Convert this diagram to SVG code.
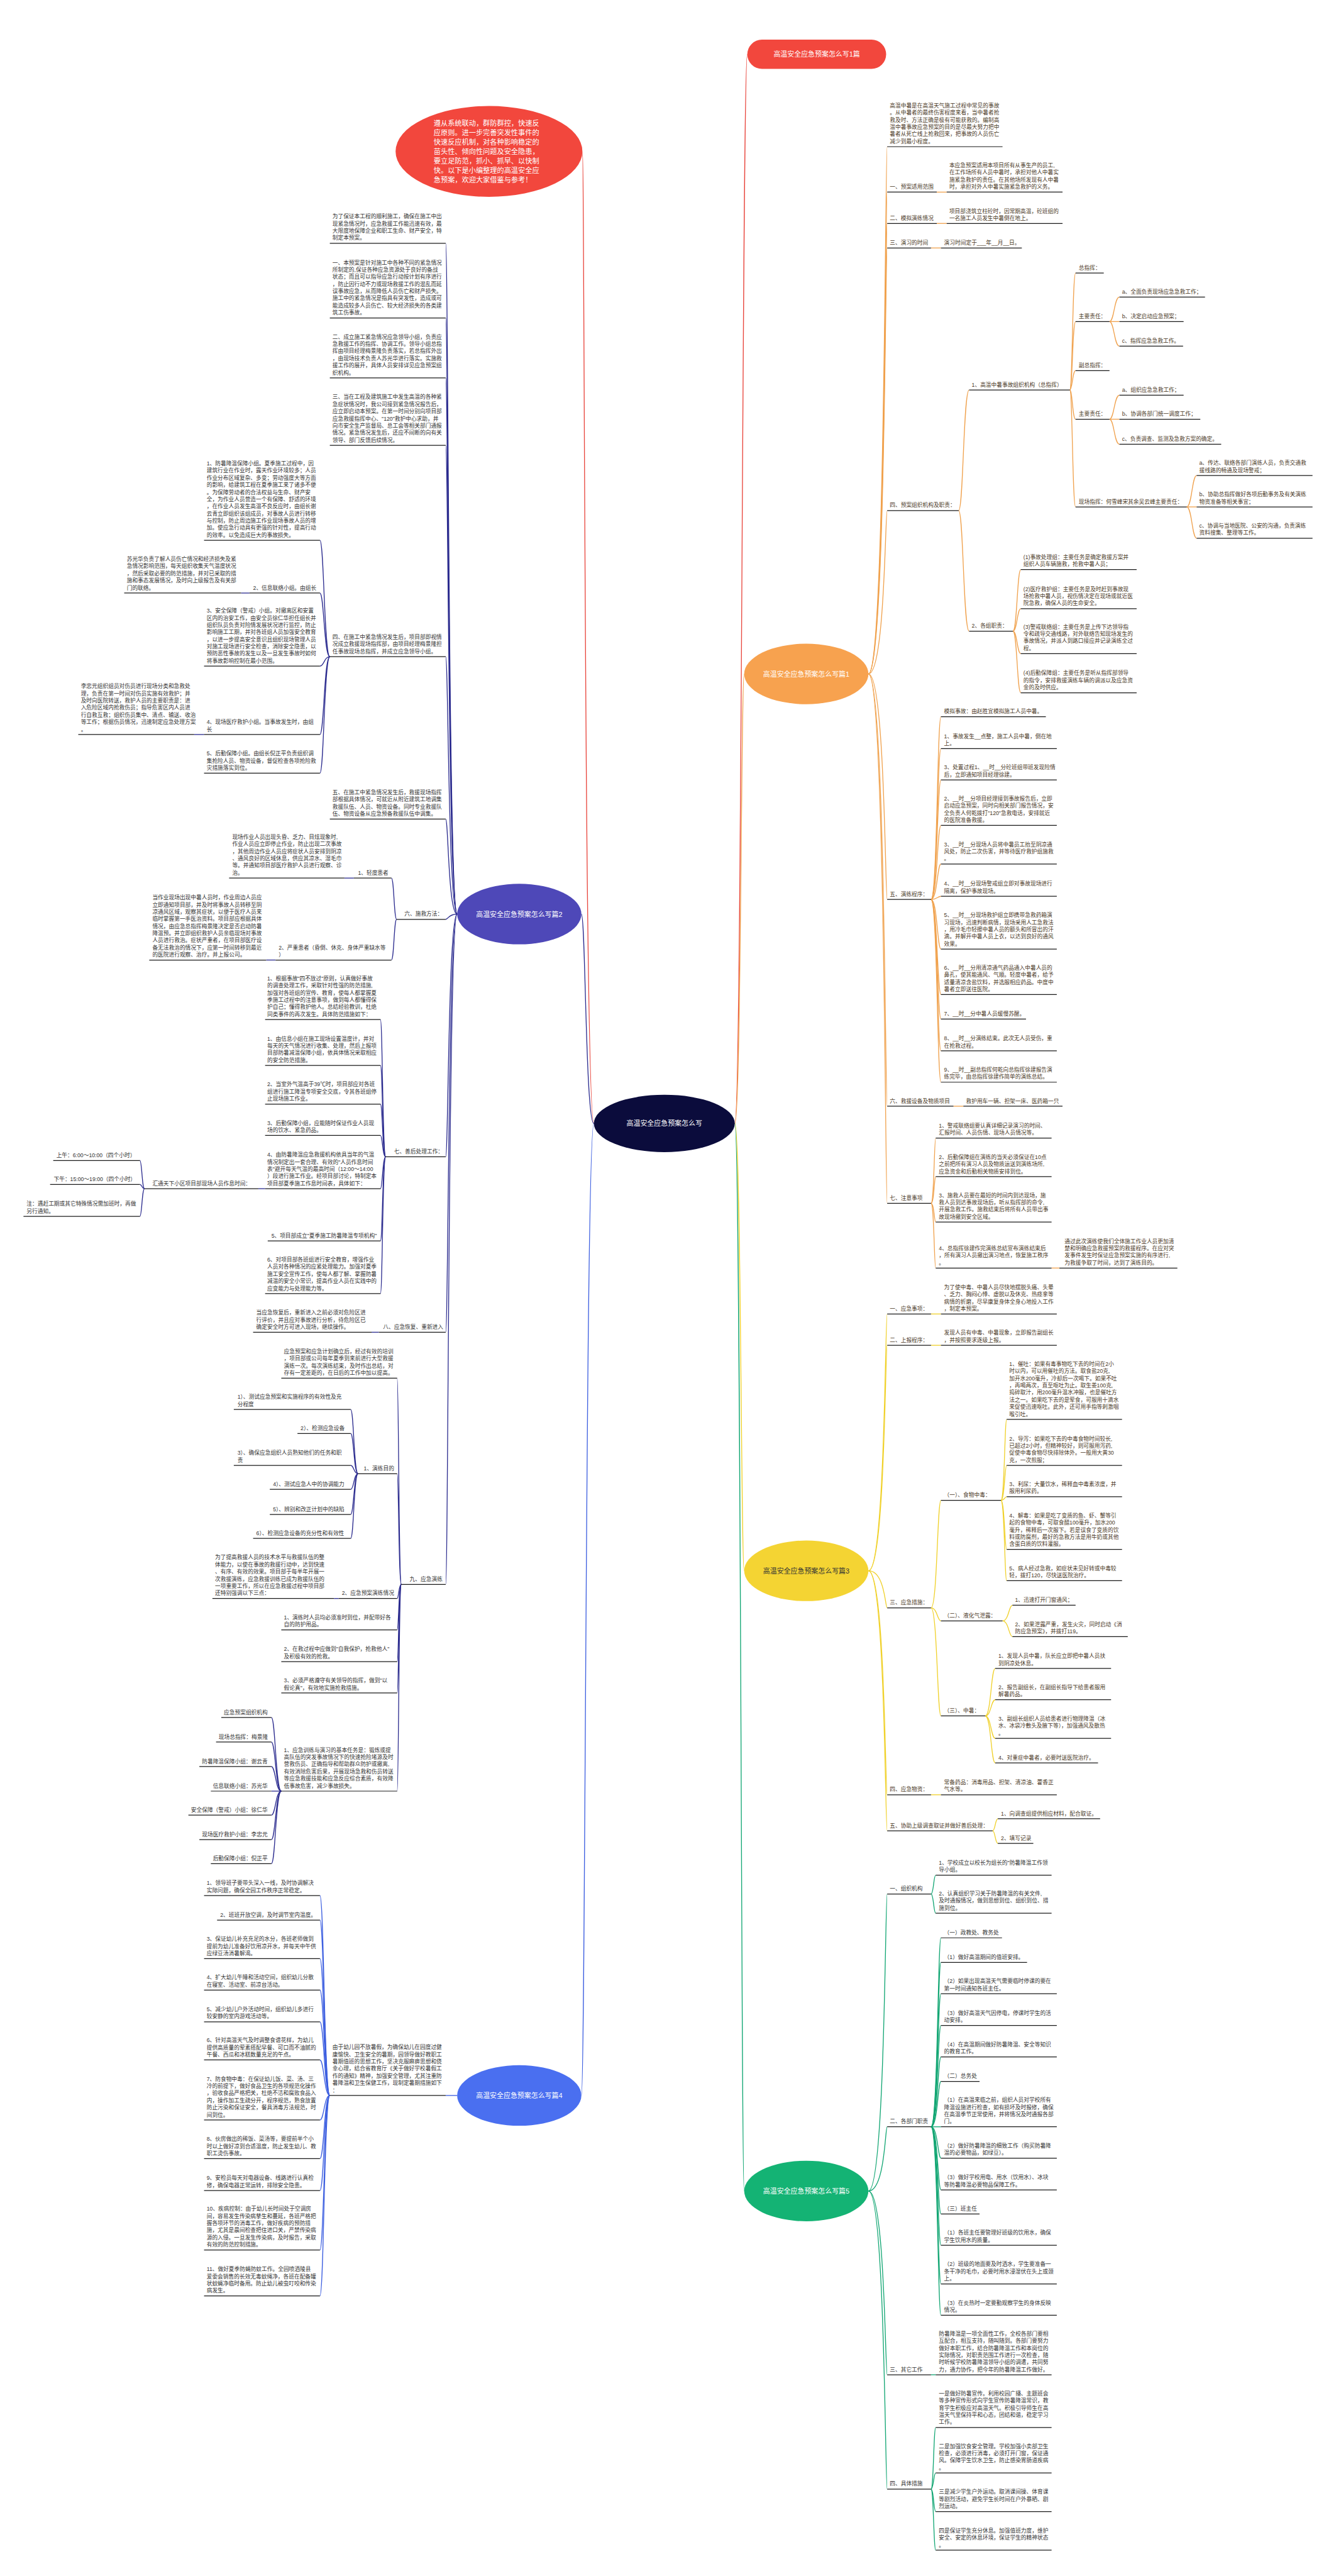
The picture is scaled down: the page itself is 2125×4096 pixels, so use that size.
<svg xmlns="http://www.w3.org/2000/svg" width="2125" height="4096" viewBox="0 0 2125 4096">
<style>
.t{font-family:'Liberation Sans','Noto Sans CJK SC',sans-serif;font-size:10.5px;fill:#333}
.b{fill:#4a3826}
.u{stroke:#1a1a1a;stroke-width:1.5;fill:none}
.c path{fill:none;stroke-width:1.6}
.nv{stroke:#2c2c8f}
.bl{stroke:#3d5fe0}
.or{stroke:#f0a24e}
.ye{stroke:#f0d12b}
.gr{stroke:#12a673}
.rd{stroke:#e8453c}
.nl{font-family:'Liberation Sans','Noto Sans CJK SC',sans-serif;font-size:13.2px;fill:#fff;text-anchor:middle}
.rt{font-family:'Liberation Sans','Noto Sans CJK SC',sans-serif;font-size:13.5px;fill:#fff}
</style>
<rect width="2125" height="4096" fill="#fff"/>
<g transform="scale(0.830078)">
<g id="connectors">
<g class="c rd">
<path d="M1138 2152C1120 2152 1120 291 1116 291"/>
<path d="M1408 2152C1422 2152 1422 104 1432 104"/>
</g>
<g class="c nv">
<path d="M1138 2152C1122 2152 1122 1751 1114 1751"/>
<path d="M876 1751C859 1751 859 466 854 466"/>
<path d="M876 1751C859 1751 859 609 854 609"/>
<path d="M876 1751C859 1751 859 724 854 724"/>
<path d="M876 1751C859 1751 859 853 854 853"/>
<path d="M876 1751C859 1751 859 1258 854 1258"/>
<path d="M876 1751C859 1751 859 1569 854 1569"/>
<path d="M876 1751C859 1751 859 1761 854 1761"/>
<path d="M876 1751C859 1751 859 2216 854 2216"/>
<path d="M876 1751C859 1751 859 2552 854 2552"/>
<path d="M876 1751C859 1751 859 3035 854 3035"/>
<path d="M632 1258C621 1258 621 1035 613 1035"/>
<path d="M632 1258C621 1258 621 1136 613 1136"/>
<path d="M632 1258C621 1258 621 1276 613 1276"/>
<path d="M632 1258C621 1258 621 1407 613 1407"/>
<path d="M632 1258C621 1258 621 1481 613 1481"/>
<path d="M478 1136H462"/>
<path d="M391 1407H372"/>
<path d="M760 1761C755 1761 755 1682 750 1682"/>
<path d="M760 1761C755 1761 755 1839 750 1839"/>
<path d="M678 1682H660"/>
<path d="M528 1839H510"/>
<path d="M739 2216C733 2216 733 1953 729 1953"/>
<path d="M739 2216C733 2216 733 2041 729 2041"/>
<path d="M739 2216C733 2216 733 2115 729 2115"/>
<path d="M739 2216C733 2216 733 2175 729 2175"/>
<path d="M739 2216C733 2216 733 2277 729 2277"/>
<path d="M739 2216C733 2216 733 2377 729 2377"/>
<path d="M739 2216C733 2216 733 2478 729 2478"/>
<path d="M508 2277H495"/>
<path d="M277 2277C272 2277 272 2223 268 2223"/>
<path d="M277 2277C272 2277 272 2269 268 2269"/>
<path d="M277 2277C272 2277 272 2330 268 2330"/>
<path d="M726 2552H712"/>
<path d="M769 3035C764 3035 764 2640 761 2640"/>
<path d="M769 3035C764 3035 764 2823 761 2823"/>
<path d="M769 3035C764 3035 764 3062 761 3062"/>
<path d="M769 3035C764 3035 764 3122 761 3122"/>
<path d="M769 3035C764 3035 764 3183 761 3183"/>
<path d="M769 3035C764 3035 764 3243 761 3243"/>
<path d="M769 3035C764 3035 764 3431 761 3431"/>
<path d="M686 2823C678 2823 678 2700 672 2700"/>
<path d="M686 2823C678 2823 678 2746 672 2746"/>
<path d="M686 2823C678 2823 678 2807 672 2807"/>
<path d="M686 2823C678 2823 678 2853 672 2853"/>
<path d="M686 2823C678 2823 678 2901 672 2901"/>
<path d="M686 2823C678 2823 678 2947 672 2947"/>
<path d="M649 3062H640"/>
<path d="M539 3431C528 3431 528 3290 520 3290"/>
<path d="M539 3431C528 3431 528 3337 520 3337"/>
<path d="M539 3431C528 3431 528 3384 520 3384"/>
<path d="M539 3431H520"/>
<path d="M539 3431C528 3431 528 3477 520 3477"/>
<path d="M539 3431C528 3431 528 3524 520 3524"/>
<path d="M539 3431C528 3431 528 3570 520 3570"/>
</g>
<g class="c bl">
<path d="M1138 2152C1122 2152 1122 4014 1114 4014"/>
<path d="M876 4014H854"/>
<path d="M632 4014C621 4014 621 3631 613 3631"/>
<path d="M632 4014C621 4014 621 3678 613 3678"/>
<path d="M632 4014C621 4014 621 3752 613 3752"/>
<path d="M632 4014C621 4014 621 3812 613 3812"/>
<path d="M632 4014C621 4014 621 3873 613 3873"/>
<path d="M632 4014C621 4014 621 3946 613 3946"/>
<path d="M632 4014C621 4014 621 4061 613 4061"/>
<path d="M632 4014C621 4014 621 4135 613 4135"/>
<path d="M632 4014C621 4014 621 4196 613 4196"/>
<path d="M632 4014C621 4014 621 4310 613 4310"/>
<path d="M632 4014C621 4014 621 4398 613 4398"/>
</g>
<g class="c or">
<path d="M1408 2152C1420 2152 1420 1291 1426 1291"/>
<path d="M1664 1291C1696 1291 1696 281 1700 281"/>
<path d="M1664 1291C1696 1291 1696 368 1700 368"/>
<path d="M1664 1291C1696 1291 1696 428 1700 428"/>
<path d="M1664 1291C1696 1291 1696 475 1700 475"/>
<path d="M1664 1291C1696 1291 1696 978 1700 978"/>
<path d="M1664 1291C1696 1291 1696 1723 1700 1723"/>
<path d="M1664 1291C1696 1291 1696 2119 1700 2119"/>
<path d="M1664 1291C1696 1291 1696 2305 1700 2305"/>
<path d="M1795 368H1814"/>
<path d="M1795 428H1814"/>
<path d="M1784 475H1803"/>
<path d="M1837 978C1846 978 1846 747 1857 747"/>
<path d="M1837 978C1846 978 1846 1209 1857 1209"/>
<path d="M2050 747C2055 747 2055 523 2061 523"/>
<path d="M2050 747C2055 747 2055 616 2061 616"/>
<path d="M2050 747C2055 747 2055 710 2061 710"/>
<path d="M2050 747C2055 747 2055 803 2061 803"/>
<path d="M2050 747C2055 747 2055 971 2061 971"/>
<path d="M2126 616C2135 616 2135 569 2145 569"/>
<path d="M2126 616H2145"/>
<path d="M2126 616C2135 616 2135 663 2145 663"/>
<path d="M2126 803C2135 803 2135 757 2145 757"/>
<path d="M2126 803H2145"/>
<path d="M2126 803C2135 803 2135 851 2145 851"/>
<path d="M2274 971C2284 971 2284 911 2293 911"/>
<path d="M2274 971H2293"/>
<path d="M2274 971C2284 971 2284 1031 2293 1031"/>
<path d="M1941 1209C1949 1209 1949 1091 1956 1091"/>
<path d="M1941 1209C1949 1209 1949 1166 1956 1166"/>
<path d="M1941 1209C1949 1209 1949 1252 1956 1252"/>
<path d="M1941 1209C1949 1209 1949 1327 1956 1327"/>
<path d="M1784 1723C1796 1723 1796 1373 1803 1373"/>
<path d="M1784 1723C1796 1723 1796 1434 1803 1434"/>
<path d="M1784 1723C1796 1723 1796 1494 1803 1494"/>
<path d="M1784 1723C1796 1723 1796 1581 1803 1581"/>
<path d="M1784 1723C1796 1723 1796 1655 1803 1655"/>
<path d="M1784 1723C1796 1723 1796 1717 1803 1717"/>
<path d="M1784 1723C1796 1723 1796 1818 1803 1818"/>
<path d="M1784 1723C1796 1723 1796 1905 1803 1905"/>
<path d="M1784 1723C1796 1723 1796 1952 1803 1952"/>
<path d="M1784 1723C1796 1723 1796 2013 1803 2013"/>
<path d="M1784 1723C1796 1723 1796 2073 1803 2073"/>
<path d="M1827 2119H1846"/>
<path d="M1784 2305C1790 2305 1790 2180 1793 2180"/>
<path d="M1784 2305C1790 2305 1790 2254 1793 2254"/>
<path d="M1784 2305C1790 2305 1790 2341 1793 2341"/>
<path d="M1784 2305C1790 2305 1790 2429 1793 2429"/>
<path d="M2015 2429H2030"/>
</g>
<g class="c ye">
<path d="M1408 2152C1420 2152 1420 3009 1426 3009"/>
<path d="M1664 3009C1696 3009 1696 2517 1700 2517"/>
<path d="M1664 3009C1696 3009 1696 2577 1700 2577"/>
<path d="M1664 3009C1696 3009 1696 3080 1700 3080"/>
<path d="M1664 3009C1696 3009 1696 3438 1700 3438"/>
<path d="M1664 3009C1696 3009 1696 3507 1700 3507"/>
<path d="M1784 2517H1803"/>
<path d="M1784 2577H1803"/>
<path d="M1784 3080C1796 3080 1796 2874 1803 2874"/>
<path d="M1784 3080C1796 3080 1796 3105 1803 3105"/>
<path d="M1784 3080C1796 3080 1796 3287 1803 3287"/>
<path d="M1918 2874C1925 2874 1925 2719 1929 2719"/>
<path d="M1918 2874C1925 2874 1925 2807 1929 2807"/>
<path d="M1918 2874C1925 2874 1925 2867 1929 2867"/>
<path d="M1918 2874C1925 2874 1925 2968 1929 2968"/>
<path d="M1918 2874C1925 2874 1925 3028 1929 3028"/>
<path d="M1921 3105C1933 3105 1933 3075 1940 3075"/>
<path d="M1921 3105C1933 3105 1933 3135 1940 3135"/>
<path d="M1888 3287C1899 3287 1899 3196 1907 3196"/>
<path d="M1888 3287C1899 3287 1899 3256 1907 3256"/>
<path d="M1888 3287C1899 3287 1899 3330 1907 3330"/>
<path d="M1888 3287C1899 3287 1899 3377 1907 3377"/>
<path d="M1784 3438H1803"/>
<path d="M1902 3507C1907 3507 1907 3484 1912 3484"/>
<path d="M1902 3507C1907 3507 1907 3531 1912 3531"/>
</g>
<g class="c gr">
<path d="M1408 2152C1420 2152 1420 4197 1426 4197"/>
<path d="M1664 4197C1696 4197 1696 3628 1700 3628"/>
<path d="M1664 4197C1696 4197 1696 4074 1700 4074"/>
<path d="M1664 4197C1696 4197 1696 4549 1700 4549"/>
<path d="M1664 4197C1696 4197 1696 4768 1700 4768"/>
<path d="M1784 3628C1789 3628 1789 3592 1793 3592"/>
<path d="M1784 3628C1789 3628 1789 3665 1793 3665"/>
<path d="M1784 4074C1797 4074 1797 3712 1803 3712"/>
<path d="M1784 4074C1797 4074 1797 3759 1803 3759"/>
<path d="M1784 4074C1797 4074 1797 3819 1803 3819"/>
<path d="M1784 4074C1797 4074 1797 3880 1803 3880"/>
<path d="M1784 4074C1797 4074 1797 3940 1803 3940"/>
<path d="M1784 4074C1797 4074 1797 3987 1803 3987"/>
<path d="M1784 4074H1803"/>
<path d="M1784 4074C1797 4074 1797 4134 1803 4134"/>
<path d="M1784 4074C1797 4074 1797 4195 1803 4195"/>
<path d="M1784 4074C1797 4074 1797 4241 1803 4241"/>
<path d="M1784 4074C1797 4074 1797 4301 1803 4301"/>
<path d="M1784 4074C1797 4074 1797 4375 1803 4375"/>
<path d="M1784 4074C1797 4074 1797 4435 1803 4435"/>
<path d="M1784 4549H1793"/>
<path d="M1784 4768C1789 4768 1789 4650 1793 4650"/>
<path d="M1784 4768C1789 4768 1789 4737 1793 4737"/>
<path d="M1784 4768C1789 4768 1789 4811 1793 4811"/>
<path d="M1784 4768C1789 4768 1789 4885 1793 4885"/>
</g>
</g>

<g id="n-center"><ellipse cx="1273" cy="2152" rx="135" ry="55" fill="#0b0c3c"/><text class="nl" x="1273" y="2157">高温安全应急预案怎么写</text></g>
<g id="n-intro"><ellipse cx="937" cy="290" rx="179" ry="87" fill="#f2473d"/><text class="rt" x="831" y="241">遵从系统联动，群防群控，快速反<tspan x="831" dy="18.1">应原则。进一步完善突发性事件的</tspan><tspan x="831" dy="18.1">快速反应机制，对各种影响稳定的</tspan><tspan x="831" dy="18.1">苗头性、倾向性问题及安全隐患，</tspan><tspan x="831" dy="18.1">要立足防范，抓小、抓早、以快制</tspan><tspan x="831" dy="18.1">快。以下是小编整理的高温安全应</tspan><tspan x="831" dy="18.1">急预案，欢迎大家借鉴与参考！</tspan></text></g>
<g id="n-top"><rect x="1432" y="76" width="266" height="56" rx="28" fill="#f2473d"/><text class="nl" x="1565" y="109">高温安全应急预案怎么写1篇</text></g>
<g id="n-p1"><ellipse cx="1545" cy="1291" rx="119" ry="58" fill="#f7a24f"/><text class="nl" x="1545" y="1296">高温安全应急预案怎么写篇1</text></g>
<g id="n-p2"><ellipse cx="995" cy="1751" rx="119" ry="58" fill="#4e48b8"/><text class="nl" x="995" y="1756">高温安全应急预案怎么写篇2</text></g>
<g id="n-p3"><ellipse cx="1545" cy="3009" rx="119" ry="58" fill="#f4d433"/><text class="nl" x="1545" y="3014" style="fill:#333">高温安全应急预案怎么写篇3</text></g>
<g id="n-p4"><ellipse cx="995" cy="4014" rx="119" ry="58" fill="#4a6ff0"/><text class="nl" x="995" y="4019">高温安全应急预案怎么写篇4</text></g>
<g id="n-p5"><ellipse cx="1545" cy="4197" rx="119" ry="58" fill="#14b374"/><text class="nl" x="1545" y="4202">高温安全应急预案怎么写篇5</text></g>

<g id="b2">
<g id="b2-0"><path class="u" d="M632 466H854"/><text class="t" x="637" y="418.4">为了保证本工程的顺利施工，确保在施工中出<tspan x="637" dy="13.7">现紧急情况时，应急救援工作能迅速有效，最</tspan><tspan x="637" dy="13.7">大限度地保障企业和职工生命、财产安全，特</tspan><tspan x="637" dy="13.7">制定本预案。</tspan></text></g>
<g id="b2-1"><path class="u" d="M632 609H854"/><text class="t" x="637" y="506.6">一、本预案是针对施工中各种不同的紧急情况<tspan x="637" dy="13.7">所制定的,保证各种应急资源处于良好的备战</tspan><tspan x="637" dy="13.7">状态；而且可以指导应急行动按计划有序进行</tspan><tspan x="637" dy="13.7">，防止因行动不力或现场救援工作的混乱而延</tspan><tspan x="637" dy="13.7">误事故应急，从而降低人员伤亡和财产损失。</tspan><tspan x="637" dy="13.7">施工中的紧急情况是指具有突发性，造成或可</tspan><tspan x="637" dy="13.7">能造成较多人员伤亡、较大经济损失的各类建</tspan><tspan x="637" dy="13.7">筑工伤事故。</tspan></text></g>
<g id="b2-2"><path class="u" d="M632 724H854"/><text class="t" x="637" y="649">二、成立施工紧急情况应急领导小组，负责应<tspan x="637" dy="13.7">急救援工作的指挥、协调工作。领导小组总指</tspan><tspan x="637" dy="13.7">挥由项目经理梅景隆负责落实，若总指挥外出</tspan><tspan x="637" dy="13.7">，由现场技术负责人苏光华进行落实。实施救</tspan><tspan x="637" dy="13.7">援工作的展开，具体人员安排详见应急预案组</tspan><tspan x="637" dy="13.7">织机构。</tspan></text></g>
<g id="b2-3"><path class="u" d="M632 853H854"/><text class="t" x="637" y="764.3">三、当在工程及建筑施工中发生高温的各种紧<tspan x="637" dy="13.7">急症状情况时，我公司接到紧急情况报告后，</tspan><tspan x="637" dy="13.7">应立即启动本预案。在第一时间分别向项目部</tspan><tspan x="637" dy="13.7">应急救援指挥中心、"120"救护中心求助，并</tspan><tspan x="637" dy="13.7">向市安全生产监督局、总工会等相关部门通报</tspan><tspan x="637" dy="13.7">情况。紧急情况发生后，还应不间断的向有关</tspan><tspan x="637" dy="13.7">领导、部门反馈后续情况。</tspan></text></g>
<g id="b2-4"><path class="u" d="M632 1258H854"/><text class="t" x="637" y="1224.1">四、在施工中紧急情况发生后，项目部即视情<tspan x="637" dy="13.7">况成立救援现场指挥部，由项目经理梅景隆担</tspan><tspan x="637" dy="13.7">任事故现场总指挥，并成立应急领导小组。</tspan></text></g>
<g id="b2-4-1"><path class="u" d="M391 1035H613"/><text class="t" x="396" y="891.5">1、防暑降温保障小组。夏季施工过程中，因<tspan x="396" dy="13.7">建筑行业在作业时，露天作业环境较多；人员</tspan><tspan x="396" dy="13.7">作业分布区域复杂、多变；劳动强度大等方面</tspan><tspan x="396" dy="13.7">的影响，给建筑工程在夏季施工来了诸多不便</tspan><tspan x="396" dy="13.7">。为保障劳动者的合法权益与生命、财产安</tspan><tspan x="396" dy="13.7">全，为作业人员营造一个有保障、舒适的环境</tspan><tspan x="396" dy="13.7">，在作业人员发生高温不良反应时，由组长谢</tspan><tspan x="396" dy="13.7">云青立即组织该组成员，对事故人员进行转移</tspan><tspan x="396" dy="13.7">与控制，防止周边施工作业现场事故人员的增</tspan><tspan x="396" dy="13.7">加。使应急行动具有更强的针对性，提高行动</tspan><tspan x="396" dy="13.7">的效率。以免造成巨大的事故损失。</tspan></text></g>
<g id="b2-4-2"><path class="u" d="M478 1136H613"/><text class="t" x="485" y="1129.5">2、信息联络小组。由组长</text></g>
<g id="b2-4-2a"><path class="u" d="M238 1136H462"/><text class="t" x="243" y="1074.7">苏光华负责了解人员伤亡情况和经济损失及紧<tspan x="243" dy="13.7">急情况影响范围，每天组织收集天气温度状况</tspan><tspan x="243" dy="13.7">，然后采取必要的防范措施，并对已采取的措</tspan><tspan x="243" dy="13.7">施和事态发展情况，及时向上级报告及有关部</tspan><tspan x="243" dy="13.7">门的联络。</tspan></text></g>
<g id="b2-4-3"><path class="u" d="M391 1276H613"/><text class="t" x="396" y="1173.6">3、安全保障（警戒）小组。对撤离区和安置<tspan x="396" dy="13.7">区内的治安工作，由安全员徐仁华担任组长并</tspan><tspan x="396" dy="13.7">组织队员负责对险情发展状况进行监控，防止</tspan><tspan x="396" dy="13.7">影响施工工期，并对各班组人员加强安全教育</tspan><tspan x="396" dy="13.7">，以进一步提高安全意识且组织现场管理人员</tspan><tspan x="396" dy="13.7">对施工现场进行安全检查，消除安全隐患，以</tspan><tspan x="396" dy="13.7">预防恶性事故的发生以及一旦发生事故时如何</tspan><tspan x="396" dy="13.7">将事故影响控制在最小范围。</tspan></text></g>
<g id="b2-4-4"><path class="u" d="M391 1407H613"/><text class="t" x="396" y="1387">4、现场医疗救护小组。当事故发生时，由组<tspan x="396" dy="13.7">长</tspan></text></g>
<g id="b2-4-4a"><path class="u" d="M150 1407H372"/><text class="t" x="155" y="1318.3">李忠元组织组员对伤员进行现场分类和急救处<tspan x="155" dy="13.7">理，负责在第一时间对伤员实施有效救护；并</tspan><tspan x="155" dy="13.7">及时向医院转送，救护人员的主要职责是：进</tspan><tspan x="155" dy="13.7">入危险区域内抢救伤员；指导危害区内人员进</tspan><tspan x="155" dy="13.7">行自救互救；组织伤员集中、清点、输送、收治</tspan><tspan x="155" dy="13.7">等工作；根据伤员情况，迅速制定应急处理方案</tspan><tspan x="155" dy="13.7">。</tspan></text></g>
<g id="b2-4-5"><path class="u" d="M391 1481H613"/><text class="t" x="396" y="1447.1">5、后勤保障小组。由组长倪正平负责组织调<tspan x="396" dy="13.7">集抢险人员、物资设备，督促检查各项抢险救</tspan><tspan x="396" dy="13.7">灾措施落实到位。</tspan></text></g>
<g id="b2-5"><path class="u" d="M632 1569H854"/><text class="t" x="637" y="1521.4">五、在施工中紧急情况发生后，救援现场指挥<tspan x="637" dy="13.7">部根据具体情况，可就近从附近建筑工地调集</tspan><tspan x="637" dy="13.7">救援队伍、人员、物资设备。同时专业救援队</tspan><tspan x="637" dy="13.7">伍、物资设备从应急预备救援队伍中调集。</tspan></text></g>
<g id="b2-6"><path class="u" d="M760 1761H854"/><text class="t" x="775" y="1754.5">六、施救方法：</text></g>
<g id="b2-6-1"><path class="u" d="M678 1682H750"/><text class="t" x="686" y="1675.5">1、轻度患者</text></g>
<g id="b2-6-1a"><path class="u" d="M439 1682H660"/><text class="t" x="445" y="1607">现场作业人员出现头昏、乏力、目炫现象时,<tspan x="445" dy="13.7">作业人员应立即停止作业，防止出现二次事故</tspan><tspan x="445" dy="13.7">，其他周边作业人员应将症状人员安排到阴凉</tspan><tspan x="445" dy="13.7">、通风良好的区域休息，供应其凉水、湿毛巾</tspan><tspan x="445" dy="13.7">等。并通知项目部医疗救护人员进行观察、诊</tspan><tspan x="445" dy="13.7">治。</tspan></text></g>
<g id="b2-6-2"><path class="u" d="M528 1839H750"/><text class="t" x="534" y="1819">2、严重患者（昏倒、休克、身体严重缺水等<tspan x="534" dy="13.7">）</tspan></text></g>
<g id="b2-6-2a"><path class="u" d="M286 1839H510"/><text class="t" x="292" y="1722.9">当作业现场出现中暑人员时，作业周边人员应<tspan x="292" dy="13.7">立即通知项目部，并及时将事故人员转移至阴</tspan><tspan x="292" dy="13.7">凉通风区域，观察其症状，以便于医疗人员来</tspan><tspan x="292" dy="13.7">临时掌握第一手医治资料。项目部应根据具体</tspan><tspan x="292" dy="13.7">情况，由应急总指挥梅景隆决定是否启动防暑</tspan><tspan x="292" dy="13.7">降温预。并立即组织救护人员亲临现场对事故</tspan><tspan x="292" dy="13.7">人员进行救治。症状严重者，在项目部医疗设</tspan><tspan x="292" dy="13.7">备无法救治的情况下，应第一时间转移到最近</tspan><tspan x="292" dy="13.7">的医院进行观察、治疗。并上报公司。</tspan></text></g>
<g id="b2-7"><path class="u" d="M739 2216H854"/><text class="t" x="755" y="2209.5">七、善后处理工作：</text></g>
<g id="b2-7-1"><path class="u" d="M508 1953H729"/><text class="t" x="512" y="1878">1、根据事故"四不放过"原则，认真做好事故<tspan x="512" dy="13.7">的调查处理工作，采取针对性强的防范措施,</tspan><tspan x="512" dy="13.7">加强对各班组的宣传、教育，使每人都掌握夏</tspan><tspan x="512" dy="13.7">季施工过程中的注意事项，做到每人都懂得保</tspan><tspan x="512" dy="13.7">护自己；懂得救护他人。总结经验教训，杜绝</tspan><tspan x="512" dy="13.7">同类事件的再次发生。具体防范措施如下：</tspan></text></g>
<g id="b2-7-2"><path class="u" d="M508 2041H729"/><text class="t" x="512" y="1993.4">1、由信息小组在施工现场设置温度计，并对<tspan x="512" dy="13.7">每天的天气情况进行收集、处理，然后上报项</tspan><tspan x="512" dy="13.7">目部防暑减温保障小组，依具体情况采取相应</tspan><tspan x="512" dy="13.7">的安全防范措施。</tspan></text></g>
<g id="b2-7-3"><path class="u" d="M508 2115H729"/><text class="t" x="512" y="2081.1">2、当室外气温高于39℃时，项目部应对各班<tspan x="512" dy="13.7">组进行施工降温专项安全交底，令其各班组停</tspan><tspan x="512" dy="13.7">止现场施工作业。</tspan></text></g>
<g id="b2-7-4"><path class="u" d="M508 2175H729"/><text class="t" x="512" y="2154.8">3、后勤保障小组，应能随时保证作业人员现<tspan x="512" dy="13.7">场的饮水、紧急药品。</tspan></text></g>
<g id="b2-7-5"><path class="u" d="M508 2277H729"/><text class="t" x="512" y="2215.7">4、由防暑降温应急救援机构依具当年的气温<tspan x="512" dy="13.7">情况制定出一套合理、有效的"人员作息时间</tspan><tspan x="512" dy="13.7">表"避开每天气温的最高时间（12:00～14:00</tspan><tspan x="512" dy="13.7">）段进行施工作业。经项目部讨论，特制定本</tspan><tspan x="512" dy="13.7">项目部夏季施工作息时间表，具体如下：</tspan></text></g>
<g id="b2-7-5a"><path class="u" d="M277 2277H495"/><text class="t" x="292" y="2270.5">汇通天下小区项目部现场人员作息时间：</text></g>
<g id="b2-7-5a1"><path class="u" d="M102 2223H268"/><text class="t" x="108" y="2216.5">上午：6:00～10:00（四个小时）</text></g>
<g id="b2-7-5a2"><path class="u" d="M96 2269H268"/><text class="t" x="103" y="2262.5">下午：15:00～19:00（四个小时）</text></g>
<g id="b2-7-5a3"><path class="u" d="M45 2330H268"/><text class="t" x="51" y="2309.8">注：遇赶工期或其它特殊情况需加班时，再做<tspan x="51" dy="13.7">另行通知。</tspan></text></g>
<g id="b2-7-6"><path class="u" d="M513 2377H729"/><text class="t" x="520" y="2370.5">5、项目部成立"夏季施工防暑降温专项机构"</text></g>
<g id="b2-7-7"><path class="u" d="M508 2478H729"/><text class="t" x="512" y="2416.7">6、对项目部各班组进行安全教育，增强作业<tspan x="512" dy="13.7">人员对各种情况的应紧处理能力。加强对夏季</tspan><tspan x="512" dy="13.7">施工安全宣传工作，使每人都了解、掌握防暑</tspan><tspan x="512" dy="13.7">减温的安全小常识，提高作业人员在实践中的</tspan><tspan x="512" dy="13.7">应变能力与处理能力等。</tspan></text></g>
<g id="b2-8"><path class="u" d="M726 2552H854"/><text class="t" x="734" y="2545.5">八、应急恢复、重新进入</text></g>
<g id="b2-8a"><path class="u" d="M485 2552H712"/><text class="t" x="491" y="2518.1">当应急恢复后，重新进入之前必须对危险区进<tspan x="491" dy="13.7">行评价，并且应对事故进行分析，待危险区已</tspan><tspan x="491" dy="13.7">确定安全时方可进入现场，继续操作。</tspan></text></g>
<g id="b2-9"><path class="u" d="M769 3035H854"/><text class="t" x="785" y="3028.5">九、应急演练</text></g>
<g id="b2-9-1"><path class="u" d="M539 2640H761"/><text class="t" x="544" y="2592.4">应急预案和应急计划确立后，经过有效的培训<tspan x="544" dy="13.7">，项目部或公司每年夏季到来前进行大型救援</tspan><tspan x="544" dy="13.7">演练一次。每次演练结束，及时作出总结，对</tspan><tspan x="544" dy="13.7">存有一定差距的，在日后的工作中加以提高。</tspan></text></g>
<g id="b2-9-2"><path class="u" d="M686 2823H761"/><text class="t" x="697" y="2816.5">1、演练目的</text></g>
<g id="b2-9-2a"><path class="u" d="M448 2700H672"/><text class="t" x="455" y="2679.8">1）、测试应急预案和实施程序的有效性及充<tspan x="455" dy="13.7">分程度</tspan></text></g>
<g id="b2-9-2b"><path class="u" d="M570 2746H672"/><text class="t" x="576" y="2739.5">2）、检测应急设备</text></g>
<g id="b2-9-2c"><path class="u" d="M448 2807H672"/><text class="t" x="455" y="2786.8">3）、确保应急组织人员熟知他们的任务和职<tspan x="455" dy="13.7">责</tspan></text></g>
<g id="b2-9-2d"><path class="u" d="M517 2853H672"/><text class="t" x="523" y="2846.5">4）、测试应急人中的协调能力</text></g>
<g id="b2-9-2e"><path class="u" d="M517 2901H672"/><text class="t" x="523" y="2894.5">5）、辨别和改正计划中的缺陷</text></g>
<g id="b2-9-2f"><path class="u" d="M485 2947H672"/><text class="t" x="491" y="2940.5">6）、检测应急设备的充分性和有效性</text></g>
<g id="b2-9-3"><path class="u" d="M649 3062H761"/><text class="t" x="655" y="3055.5">2、应急预案演练情况</text></g>
<g id="b2-9-3a"><path class="u" d="M407 3062H640"/><text class="t" x="412" y="2987">为了提高救援人员的技术水平与救援队伍的整<tspan x="412" dy="13.7">体能力，以使在事故的救援行动中，达到快速</tspan><tspan x="412" dy="13.7">、有序、有效的效果。项目部于每半年开展一</tspan><tspan x="412" dy="13.7">次救援演练，应急救援训练已成为救援队伍的</tspan><tspan x="412" dy="13.7">一项重要工作，所以在应急救援过程中项目部</tspan><tspan x="412" dy="13.7">还特别强调以下三点：</tspan></text></g>
<g id="b2-9-4"><path class="u" d="M539 3122H761"/><text class="t" x="544" y="3101.8">1、演练时人员均必须准时到位，并配带好各<tspan x="544" dy="13.7">自的防护用品。</tspan></text></g>
<g id="b2-9-5"><path class="u" d="M539 3183H761"/><text class="t" x="544" y="3162.8">2、在救过程中应做到"自我保护，抢救他人"<tspan x="544" dy="13.7">及积极有效的抢救。</tspan></text></g>
<g id="b2-9-6"><path class="u" d="M539 3243H761"/><text class="t" x="544" y="3222.8">3、必须严格遵守有关领导的指挥，做到"以<tspan x="544" dy="13.7">假论真"，有效地实施抢救措施。</tspan></text></g>
<g id="b2-9-7"><path class="u" d="M539 3431H761"/><text class="t" x="544" y="3356">1、应急训练与演习的基本任务是：锻炼或提<tspan x="544" dy="13.7">高队伍的突发事故情况下的快速抢险堵源及时</tspan><tspan x="544" dy="13.7">营救伤员、正确指导和帮助群众防护或撤离,</tspan><tspan x="544" dy="13.7">有效消除危害后果，开展现场急救和伤员转送</tspan><tspan x="544" dy="13.7">等应急救援技能和应急反应综合素质，有效降</tspan><tspan x="544" dy="13.7">低事故危害，减少事故损失。</tspan></text></g>
<g id="b2-9-7a"><path class="u" d="M424 3290H520"/><text class="t" x="429" y="3283.5">应急预案组织机构</text></g>
<g id="b2-9-7b"><path class="u" d="M414 3337H520"/><text class="t" x="419" y="3330.5">现场总指挥：梅景隆</text></g>
<g id="b2-9-7c"><path class="u" d="M382 3384H520"/><text class="t" x="387" y="3377.5">防暑降温保障小组：谢云青</text></g>
<g id="b2-9-7d"><path class="u" d="M404 3431H520"/><text class="t" x="408" y="3424.5">信息联络小组：苏光华</text></g>
<g id="b2-9-7e"><path class="u" d="M361 3477H520"/><text class="t" x="366" y="3470.5">安全保障（警戒）小组：徐仁华</text></g>
<g id="b2-9-7f"><path class="u" d="M382 3524H520"/><text class="t" x="387" y="3517.5">现场医疗救护小组：李忠元</text></g>
<g id="b2-9-7g"><path class="u" d="M404 3570H520"/><text class="t" x="408" y="3563.5">后勤保障小组：倪正平</text></g>
</g>

<g id="b4">
<g id="b4-0"><path class="u" d="M632 4014H854"/><text class="t" x="637" y="3925.3">由于幼儿园不放暑假，为确保幼儿在园度过健<tspan x="637" dy="13.7">康愉快、卫生安全的暑期，园领导做好教职工</tspan><tspan x="637" dy="13.7">暑期值班的思想工作，坚决克服麻痹思想和侥</tspan><tspan x="637" dy="13.7">幸心理，结合省教育厅《关于做好学校暑假工</tspan><tspan x="637" dy="13.7">作的通知》精神，加强安全管理，尤其注重防</tspan><tspan x="637" dy="13.7">暑降温和卫生保健工作，现制定暑期措施如下</tspan><tspan x="637" dy="13.7">：</tspan></text></g>
<g id="b4-1"><path class="u" d="M391 3631H613"/><text class="t" x="396" y="3610.8">1、领导班子要带头深入一线，及时协调解决<tspan x="396" dy="13.7">实际问题，确保全园工作秩序正常稳定。</tspan></text></g>
<g id="b4-2"><path class="u" d="M416 3678H613"/><text class="t" x="422" y="3671.5">2、班班开放空调，及时调节室内温度。</text></g>
<g id="b4-3"><path class="u" d="M391 3752H613"/><text class="t" x="396" y="3718.1">3、保证幼儿补充充足的水分，各班老师做到<tspan x="396" dy="13.7">提前为幼儿准备好饮用凉开水，并每天中午供</tspan><tspan x="396" dy="13.7">应绿豆汤消暑解渴。</tspan></text></g>
<g id="b4-4"><path class="u" d="M391 3812H613"/><text class="t" x="396" y="3791.8">4、扩大幼儿午睡和活动空间，组织幼儿分散<tspan x="396" dy="13.7">在寝室、活动室、前凉台活动。</tspan></text></g>
<g id="b4-5"><path class="u" d="M391 3873H613"/><text class="t" x="396" y="3852.8">5、减少幼儿户外活动时间，组织幼儿多进行<tspan x="396" dy="13.7">较安静的室内游戏活动等。</tspan></text></g>
<g id="b4-6"><path class="u" d="M391 3946H613"/><text class="t" x="396" y="3912.1">6、针对高温天气及时调整食谱花样，为幼儿<tspan x="396" dy="13.7">提供高质量的荤素搭配早餐、可口而不油腻的</tspan><tspan x="396" dy="13.7">午餐、西瓜和冰糕数量充足的午点。</tspan></text></g>
<g id="b4-7"><path class="u" d="M391 4061H613"/><text class="t" x="396" y="3986">7、防食物中毒：在保证幼儿饭、菜、汤、三<tspan x="396" dy="13.7">冷的前提下，做好食品卫生的各项规范化操作</tspan><tspan x="396" dy="13.7">，验收食品严格把关，杜绝不洁和腐败食品入</tspan><tspan x="396" dy="13.7">内，操作加工生疏分开，程序规范，熟食放置</tspan><tspan x="396" dy="13.7">防止污染和保证安全，餐具消毒方法规范，时</tspan><tspan x="396" dy="13.7">间到位。</tspan></text></g>
<g id="b4-8"><path class="u" d="M391 4135H613"/><text class="t" x="396" y="4101.1">8、伙房做出的稀饭、菜汤等，要提前半个小<tspan x="396" dy="13.7">时以上做好凉到合适温度，防止发生幼儿、教</tspan><tspan x="396" dy="13.7">职工烫伤事故。</tspan></text></g>
<g id="b4-9"><path class="u" d="M391 4196H613"/><text class="t" x="396" y="4175.8">9、安检员每天对电器设备、线路进行认真检<tspan x="396" dy="13.7">修，确保电器正常运转，排除安全隐患。</tspan></text></g>
<g id="b4-10"><path class="u" d="M391 4310H613"/><text class="t" x="396" y="4235">10、疾病控制：由于幼儿长时间处于空调房<tspan x="396" dy="13.7">间，容易发生传染病孳生和蔓延，各班严格把</tspan><tspan x="396" dy="13.7">握各项环节的消毒工作，做好疾病的预防措</tspan><tspan x="396" dy="13.7">施，尤其是晨间检查把住进口关，严禁传染病</tspan><tspan x="396" dy="13.7">源的入侵。一旦发生传染病，及时报告，采取</tspan><tspan x="396" dy="13.7">有效的防范控制措施。</tspan></text></g>
<g id="b4-11"><path class="u" d="M391 4398H613"/><text class="t" x="396" y="4350.4">11、做好夏季防蝇防蚊工作。全园喷洒陵县<tspan x="396" dy="13.7">爱委会销售的长效无毒蚊绳净，各班在配备罐</tspan><tspan x="396" dy="13.7">状蚊蝇净临时备用。防止幼儿被虫叮咬和传染</tspan><tspan x="396" dy="13.7">病发生。</tspan></text></g>
</g>

<g id="b1">
<g id="b1-0"><path class="u" d="M1700 281H1921"/><text class="t b" x="1705" y="206">高温中暑是在高温天气施工过程中常见的事故<tspan x="1705" dy="13.7">。从中暑者的最终伤害程度来看，当中暑者抢</tspan><tspan x="1705" dy="13.7">救及时、方法正确是极有可能获救的。编制高</tspan><tspan x="1705" dy="13.7">温中暑事故应急预案的目的是尽最大努力把中</tspan><tspan x="1705" dy="13.7">暑者从死亡线上抢救回来，把事故的人员伤亡</tspan><tspan x="1705" dy="13.7">减少到最小程度。</tspan></text></g>
<g id="b1-1"><path class="u" d="M1700 368H1795"/><text class="t b" x="1705" y="361.5">一、预案适用范围</text></g>
<g id="b1-1a"><path class="u" d="M1814 368H2036"/><text class="t b" x="1819" y="320.4">本应急预案适用本项目所有从事生产的员工,<tspan x="1819" dy="13.7">在工作场所有人员中暑时，承担对他人中暑实</tspan><tspan x="1819" dy="13.7">施紧急救护的责任。在其他场所发现有人中暑</tspan><tspan x="1819" dy="13.7">时，承担对外人中暑实施紧急救护的义务。</tspan></text></g>
<g id="b1-2"><path class="u" d="M1700 428H1795"/><text class="t b" x="1705" y="421.5">二、模拟演练情况</text></g>
<g id="b1-2a"><path class="u" d="M1814 428H2036"/><text class="t b" x="1819" y="407.8">项目部浇筑立柱砼时，因常期高温，砼班组的<tspan x="1819" dy="13.7">一名施工人员发生中暑倒在地上。</tspan></text></g>
<g id="b1-3"><path class="u" d="M1700 475H1784"/><text class="t b" x="1705" y="468.5">三、演习的时间</text></g>
<g id="b1-3a"><path class="u" d="M1803 475H1958"/><text class="t b" x="1809" y="468.5">演习时间定于___年__月__日。</text></g>
<g id="b1-4"><path class="u" d="M1700 978H1837"/><text class="t b" x="1705" y="971.5">四、预案组织机构及职责：</text></g>
<g id="b1-4-1"><path class="u" d="M1857 747H2050"/><text class="t b" x="1862" y="740.5">1、高温中暑事故组织机构（总指挥）</text></g>
<g id="b1-4-1a"><path class="u" d="M2061 523H2115"/><text class="t b" x="2067" y="516.5">总指挥：</text></g>
<g id="b1-4-1b"><path class="u" d="M2061 616H2126"/><text class="t b" x="2067" y="609.5">主要责任：</text></g>
<g id="b1-4-1b1"><path class="u" d="M2145 569H2309"/><text class="t b" x="2150" y="562.5">a、全面负责现场应急急救工作；</text></g>
<g id="b1-4-1b2"><path class="u" d="M2145 616H2268"/><text class="t b" x="2150" y="609.5">b、决定启动应急预案；</text></g>
<g id="b1-4-1b3"><path class="u" d="M2145 663H2267"/><text class="t b" x="2150" y="656.5">c、指挥应急急救工作。</text></g>
<g id="b1-4-1c"><path class="u" d="M2061 710H2126"/><text class="t b" x="2067" y="703.5">副总指挥：</text></g>
<g id="b1-4-1d"><path class="u" d="M2061 803H2126"/><text class="t b" x="2067" y="796.5">主要责任：</text></g>
<g id="b1-4-1d1"><path class="u" d="M2145 757H2268"/><text class="t b" x="2150" y="750.5">a、组织应急急救工作；</text></g>
<g id="b1-4-1d2"><path class="u" d="M2145 803H2300"/><text class="t b" x="2150" y="796.5">b、协调各部门统一调度工作；</text></g>
<g id="b1-4-1d3"><path class="u" d="M2145 851H2340"/><text class="t b" x="2150" y="844.5">c、负责调查、监测及急救方案的确定。</text></g>
<g id="b1-4-1e"><path class="u" d="M2061 971H2274"/><text class="t b" x="2067" y="964.5">现场指挥：何雪峰宋其余吴云峰主要责任：</text></g>
<g id="b1-4-1e1"><path class="u" d="M2293 911H2515"/><text class="t b" x="2298" y="890.8">a、传达、联络各部门演练人员，负责交通救<tspan x="2298" dy="13.7">援线路的畅通及现场警戒；</tspan></text></g>
<g id="b1-4-1e2"><path class="u" d="M2293 971H2515"/><text class="t b" x="2298" y="950.8">b、协助总指挥做好各项后勤事务及有关演练<tspan x="2298" dy="13.7">物资准备等相关事宜；</tspan></text></g>
<g id="b1-4-1e3"><path class="u" d="M2293 1031H2515"/><text class="t b" x="2298" y="1010.8">c、协调与当地医院、公安的沟通，负责演练<tspan x="2298" dy="13.7">资料搜集、整理等工作。</tspan></text></g>
<g id="b1-4-2"><path class="u" d="M1857 1209H1941"/><text class="t b" x="1862" y="1202.5">2、各组职责：</text></g>
<g id="b1-4-2a"><path class="u" d="M1956 1091H2178"/><text class="t b" x="1961" y="1070.8">(1)事故处理组：主要任务是确定救援方案并<tspan x="1961" dy="13.7">组织人员车辆施救，抢救中暑人员；</tspan></text></g>
<g id="b1-4-2b"><path class="u" d="M1956 1166H2178"/><text class="t b" x="1961" y="1132.1">(2)医疗救护组：主要任务是及时赶到事故现<tspan x="1961" dy="13.7">场抢救中暑人员，视伤情决定在现场或就近医</tspan><tspan x="1961" dy="13.7">院急救，确保人员的生命安全。</tspan></text></g>
<g id="b1-4-2c"><path class="u" d="M1956 1252H2178"/><text class="t b" x="1961" y="1204.4">(3)警戒联络组：主要任务是上传下达领导指<tspan x="1961" dy="13.7">令和疏导交通线路，对外联络告知现场发生的</tspan><tspan x="1961" dy="13.7">事故情况，并派人到路口接应并记录演练全过</tspan><tspan x="1961" dy="13.7">程。</tspan></text></g>
<g id="b1-4-2d"><path class="u" d="M1956 1327H2178"/><text class="t b" x="1961" y="1293.1">(4)后勤保障组：主要任务是听从指挥部领导<tspan x="1961" dy="13.7">的指令，安排救援演练车辆的调派以及应急资</tspan><tspan x="1961" dy="13.7">金的及时供应。</tspan></text></g>
<g id="b1-5"><path class="u" d="M1700 1723H1784"/><text class="t b" x="1705" y="1716.5">五、演练程序：</text></g>
<g id="b1-5-0"><path class="u" d="M1803 1373H2004"/><text class="t b" x="1809" y="1366.5">模拟事故：由赵胜宜模拟施工人员中暑。</text></g>
<g id="b1-5-1"><path class="u" d="M1803 1434H2025"/><text class="t b" x="1809" y="1413.8">1、事故发生__点整，施工人员中暑，倒在地<tspan x="1809" dy="13.7">上。</tspan></text></g>
<g id="b1-5-2"><path class="u" d="M1803 1494H2025"/><text class="t b" x="1809" y="1473.8">3、处置过程1、__时__分砼班组带班发现险情<tspan x="1809" dy="13.7">后，立即通知项目经理徐建。</tspan></text></g>
<g id="b1-5-3"><path class="u" d="M1803 1581H2025"/><text class="t b" x="1809" y="1533.4">2、__时__分项目经理接到事故报告后，立即<tspan x="1809" dy="13.7">启动应急预案，同时向相关部门报告情况，安</tspan><tspan x="1809" dy="13.7">全负责人何乾拨打"120"急救电话，安排就近</tspan><tspan x="1809" dy="13.7">的医院准备救援。</tspan></text></g>
<g id="b1-5-4"><path class="u" d="M1803 1655H2025"/><text class="t b" x="1809" y="1621.1">3、__时__分现场人员将中暑员工抬至阴凉通<tspan x="1809" dy="13.7">风处，防止二次伤害，并等待医疗救护组施救</tspan><tspan x="1809" dy="13.7">。</tspan></text></g>
<g id="b1-5-5"><path class="u" d="M1803 1717H2025"/><text class="t b" x="1809" y="1696.8">4、__时__分现场警戒组立即对事故现场进行<tspan x="1809" dy="13.7">隔离，保护事故现场。</tspan></text></g>
<g id="b1-5-6"><path class="u" d="M1803 1818H2025"/><text class="t b" x="1809" y="1756.7">5、__时__分现场救护组立即携带急救药箱演<tspan x="1809" dy="13.7">习现场，迅速判断病情，现场采用人工急救法</tspan><tspan x="1809" dy="13.7">，用冷毛巾轻擦中暑人员的额头和所冒出的汗</tspan><tspan x="1809" dy="13.7">滴。并解开中暑人员上衣，以达到良好的通风</tspan><tspan x="1809" dy="13.7">效果。</tspan></text></g>
<g id="b1-5-7"><path class="u" d="M1803 1905H2025"/><text class="t b" x="1809" y="1857.4">6、__时__分用清凉通气药品通入中暑人员的<tspan x="1809" dy="13.7">鼻孔，使其能通风、气顺。轻度中暑者，给予</tspan><tspan x="1809" dy="13.7">适量清凉含盐饮料，并选服相应药品。中度中</tspan><tspan x="1809" dy="13.7">暑者立即送往医院。</tspan></text></g>
<g id="b1-5-8"><path class="u" d="M1803 1952H1966"/><text class="t b" x="1809" y="1945.5">7、__时__分中暑人员缓慢苏醒。</text></g>
<g id="b1-5-9"><path class="u" d="M1803 2013H2025"/><text class="t b" x="1809" y="1992.8">8、__时__分演练结束。此次无人员受伤，重<tspan x="1809" dy="13.7">在抢救过程。</tspan></text></g>
<g id="b1-5-10"><path class="u" d="M1803 2073H2025"/><text class="t b" x="1809" y="2052.8">9、__时__副总指挥何乾向总指挥徐建报告演<tspan x="1809" dy="13.7">练完毕，由总指挥徐建作简单的演练总结。</tspan></text></g>
<g id="b1-6"><path class="u" d="M1700 2119H1827"/><text class="t b" x="1705" y="2112.5">六、救援设备及物质项目</text></g>
<g id="b1-6a"><path class="u" d="M1846 2119H2036"/><text class="t b" x="1851" y="2112.5">救护用车一辆、担架一床、医药箱一只</text></g>
<g id="b1-7"><path class="u" d="M1700 2305H1784"/><text class="t b" x="1705" y="2298.5">七、注意事项</text></g>
<g id="b1-7-1"><path class="u" d="M1793 2180H2015"/><text class="t b" x="1799" y="2159.8">1、警戒联络组要认真详细记录演习的时间、<tspan x="1799" dy="13.7">汇报时间、人员伤情、现场人员情况等。</tspan></text></g>
<g id="b1-7-2"><path class="u" d="M1793 2254H2015"/><text class="t b" x="1799" y="2220.1">2、后勤保障组在演练的当天必须保证在10点<tspan x="1799" dy="13.7">之前把所有演习人员及物质运送到演练场所,</tspan><tspan x="1799" dy="13.7">应急资金和后勤相关物质安排到位。</tspan></text></g>
<g id="b1-7-3"><path class="u" d="M1793 2341H2015"/><text class="t b" x="1799" y="2293.4">3、施救人员要在最短的时间内到达现场，施<tspan x="1799" dy="13.7">救人员到达事故现场后，听从指挥部的命令,</tspan><tspan x="1799" dy="13.7">开展急救工作。施救结束后将所有人员带出事</tspan><tspan x="1799" dy="13.7">故现场撤到安全区域。</tspan></text></g>
<g id="b1-7-4"><path class="u" d="M1793 2429H2015"/><text class="t b" x="1799" y="2395.1">4、总指挥徐建作完演练总结宣布演练结束后<tspan x="1799" dy="13.7">，所有演习人员撤出演习地点，恢复施工秩序</tspan><tspan x="1799" dy="13.7">。</tspan></text></g>
<g id="b1-7-4a"><path class="u" d="M2030 2429H2256"/><text class="t b" x="2040" y="2381.4">通过此次演练使我们全体施工作业人员更加清<tspan x="2040" dy="13.7">楚和明确应急救援预案的救援程序。在应对突</tspan><tspan x="2040" dy="13.7">发事件发生时保证应急预案实施的有序进行,</tspan><tspan x="2040" dy="13.7">为救援争取了时间，达到了演练目的。</tspan></text></g>
</g>

<g id="b3">
<g id="b3-1"><path class="u" d="M1700 2517H1784"/><text class="t b" x="1705" y="2510.5">一、应急事项：</text></g>
<g id="b3-1a"><path class="u" d="M1803 2517H2025"/><text class="t b" x="1809" y="2469.4">为了使中毒、中暑人员尽快地摆脱头痛、头晕<tspan x="1809" dy="13.7">、乏力、胸闷心悸、虚脱以及休克、热痉挛等</tspan><tspan x="1809" dy="13.7">病情的折磨，尽早康复身体全身心地投入工作</tspan><tspan x="1809" dy="13.7">，制定本预案。</tspan></text></g>
<g id="b3-2"><path class="u" d="M1700 2577H1784"/><text class="t b" x="1705" y="2570.5">二、上报程序：</text></g>
<g id="b3-2a"><path class="u" d="M1803 2577H2025"/><text class="t b" x="1809" y="2556.8">发现人员有中毒、中暑现象，立即报告副组长<tspan x="1809" dy="13.7">，并按照要求逐级上报。</tspan></text></g>
<g id="b3-3"><path class="u" d="M1700 3080H1784"/><text class="t b" x="1705" y="3073.5">三、应急措施：</text></g>
<g id="b3-3-1"><path class="u" d="M1803 2874H1918"/><text class="t b" x="1809" y="2867.5">（一）、食物中毒：</text></g>
<g id="b3-3-1a"><path class="u" d="M1929 2719H2150"/><text class="t b" x="1934" y="2616.6">1、催吐：如果有毒事物吃下去的时间在2小<tspan x="1934" dy="13.7">时以内，可以用催吐的方法。取食盐20克,</tspan><tspan x="1934" dy="13.7">加开水200毫升，冷却后一次喝下。如果不吐</tspan><tspan x="1934" dy="13.7">，再喝两次，直至呕吐为止。取生姜100克,</tspan><tspan x="1934" dy="13.7">捣碎取汁，用200毫升温水冲服，也是催吐方</tspan><tspan x="1934" dy="13.7">法之一。如果吃下去的是荤食，可服用十滴水</tspan><tspan x="1934" dy="13.7">来促使迅速呕吐。此外，还可用手指等刺激咽</tspan><tspan x="1934" dy="13.7">喉引吐。</tspan></text></g>
<g id="b3-3-1b"><path class="u" d="M1929 2807H2150"/><text class="t b" x="1934" y="2759.4">2、导泻：如果吃下去的中毒食物时间较长,<tspan x="1934" dy="13.7">已超过2小时，但精神较好，则可服用泻药,</tspan><tspan x="1934" dy="13.7">促使中毒食物尽快排除体外。一般用大黄30</tspan><tspan x="1934" dy="13.7">克，一次煎服；</tspan></text></g>
<g id="b3-3-1c"><path class="u" d="M1929 2867H2150"/><text class="t b" x="1934" y="2846.8">3、利尿：大量饮水，稀释血中毒素浓度，并<tspan x="1934" dy="13.7">服用利尿药。</tspan></text></g>
<g id="b3-3-1d"><path class="u" d="M1929 2968H2150"/><text class="t b" x="1934" y="2906.7">4、解毒：如果是吃了变质的鱼、虾、蟹等引<tspan x="1934" dy="13.7">起的食物中毒，可取食醋100毫升，加水200</tspan><tspan x="1934" dy="13.7">毫升，稀释后一次服下。若是误食了变质的饮</tspan><tspan x="1934" dy="13.7">料或防腐剂，最好的急救方法是用牛奶或其他</tspan><tspan x="1934" dy="13.7">含蛋白质的饮料灌服。</tspan></text></g>
<g id="b3-3-1e"><path class="u" d="M1929 3028H2150"/><text class="t b" x="1934" y="3007.8">5、病人经过急救，如症状未见好转或中毒较<tspan x="1934" dy="13.7">轻，拨打120，尽快送医院治疗。</tspan></text></g>
<g id="b3-3-2"><path class="u" d="M1803 3105H1921"/><text class="t b" x="1809" y="3098.5">（二）、液化气泄露：</text></g>
<g id="b3-3-2a"><path class="u" d="M1940 3075H2061"/><text class="t b" x="1945" y="3068.5">1、迅速打开门窗通风；</text></g>
<g id="b3-3-2b"><path class="u" d="M1940 3135H2161"/><text class="t b" x="1945" y="3114.8">2、如果泄露严重，发生火灾，同时启动《消<tspan x="1945" dy="13.7">防应急预案》，并拨打119。</tspan></text></g>
<g id="b3-3-3"><path class="u" d="M1803 3287H1888"/><text class="t b" x="1809" y="3280.5">（三）、中暑：</text></g>
<g id="b3-3-3a"><path class="u" d="M1907 3196H2129"/><text class="t b" x="1913" y="3175.8">1、发现人员中暑，队长应立即把中暑人员扶<tspan x="1913" dy="13.7">到阴凉处休息。</tspan></text></g>
<g id="b3-3-3b"><path class="u" d="M1907 3256H2129"/><text class="t b" x="1913" y="3235.8">2、报告副组长，在副组长指导下给患者服用<tspan x="1913" dy="13.7">解暑药品。</tspan></text></g>
<g id="b3-3-3c"><path class="u" d="M1907 3330H2129"/><text class="t b" x="1913" y="3296.1">3、副组长组织人员给患者进行物理降温（冰<tspan x="1913" dy="13.7">水、冰袋冷敷头及腋下等），加强通风及散热</tspan><tspan x="1913" dy="13.7">。</tspan></text></g>
<g id="b3-3-3d"><path class="u" d="M1907 3377H2104"/><text class="t b" x="1913" y="3370.5">4、对重症中暑者，必要时送医院治疗。</text></g>
<g id="b3-4"><path class="u" d="M1700 3438H1784"/><text class="t b" x="1705" y="3431.5">四、应急物资：</text></g>
<g id="b3-4a"><path class="u" d="M1803 3438H2025"/><text class="t b" x="1809" y="3417.8">常备药品：消毒用品、担架、清凉油、藿香正<tspan x="1809" dy="13.7">气水等。</tspan></text></g>
<g id="b3-5"><path class="u" d="M1700 3507H1902"/><text class="t b" x="1705" y="3500.5">五、协助上级调查取证并做好善后处理：</text></g>
<g id="b3-5a"><path class="u" d="M1912 3484H2108"/><text class="t b" x="1918" y="3477.5">1、向调查组提供相应材料，配合取证。</text></g>
<g id="b3-5b"><path class="u" d="M1912 3531H1980"/><text class="t b" x="1918" y="3524.5">2、填写记录</text></g>
</g>

<g id="b5">
<g id="b5-1"><path class="u" d="M1700 3628H1784"/><text class="t" x="1705" y="3621.5">一、组织机构</text></g>
<g id="b5-1a"><path class="u" d="M1793 3592H2015"/><text class="t" x="1799" y="3571.8">1、学校成立以校长为组长的"防暑降温工作领<tspan x="1799" dy="13.7">导小组。</tspan></text></g>
<g id="b5-1b"><path class="u" d="M1793 3665H2015"/><text class="t" x="1799" y="3631.1">2、认真组织学习关于防暑降温的有关文件,<tspan x="1799" dy="13.7">及时通报情况，做到思想到位、组织到位、措</tspan><tspan x="1799" dy="13.7">施到位。</tspan></text></g>
<g id="b5-2"><path class="u" d="M1700 4074H1784"/><text class="t" x="1705" y="4067.5">二、各部门职责</text></g>
<g id="b5-2a"><path class="u" d="M1803 3712H1920"/><text class="t" x="1809" y="3705.5">（一）政教处、教务处</text></g>
<g id="b5-2b"><path class="u" d="M1803 3759H1968"/><text class="t" x="1809" y="3752.5">（1）做好高温期间的值班安排。</text></g>
<g id="b5-2c"><path class="u" d="M1803 3819H2025"/><text class="t" x="1809" y="3798.8">（2）如果出现高温天气需要临时停课的要在<tspan x="1809" dy="13.7">第一时间通知各班主任。</tspan></text></g>
<g id="b5-2d"><path class="u" d="M1803 3880H2025"/><text class="t" x="1809" y="3859.8">（3）做好高温天气因停电，停课时学生的活<tspan x="1809" dy="13.7">动安排。</tspan></text></g>
<g id="b5-2e"><path class="u" d="M1803 3940H2025"/><text class="t" x="1809" y="3919.8">（4）在高温期间做好防暑降温、安全等知识<tspan x="1809" dy="13.7">的教育工作。</tspan></text></g>
<g id="b5-2f"><path class="u" d="M1803 3987H1877"/><text class="t" x="1809" y="3980.5">（二）总务处</text></g>
<g id="b5-2g"><path class="u" d="M1803 4074H2025"/><text class="t" x="1809" y="4026.4">（1）在高温来临之前，组织人员对学校所有<tspan x="1809" dy="13.7">降温设施进行检查，如有损坏及时报修，确保</tspan><tspan x="1809" dy="13.7">在高温季节正常使用，并将情况及时通报各部</tspan><tspan x="1809" dy="13.7">门。</tspan></text></g>
<g id="b5-2h"><path class="u" d="M1803 4134H2025"/><text class="t" x="1809" y="4113.8">（2）做好防暑降温的细致工作（购买防暑降<tspan x="1809" dy="13.7">温的必要物品，如绿豆）。</tspan></text></g>
<g id="b5-2i"><path class="u" d="M1803 4195H2025"/><text class="t" x="1809" y="4174.8">（3）做好学校用电、用水（饮用水）、冰块<tspan x="1809" dy="13.7">等防暑降温必要物品保障工作。</tspan></text></g>
<g id="b5-2j"><path class="u" d="M1803 4241H1877"/><text class="t" x="1809" y="4234.5">（三）班主任</text></g>
<g id="b5-2k"><path class="u" d="M1803 4301H2025"/><text class="t" x="1809" y="4280.8">（1）各班主任要管理好班级的饮用水，确保<tspan x="1809" dy="13.7">学生饮用水的质量。</tspan></text></g>
<g id="b5-2l"><path class="u" d="M1803 4375H2025"/><text class="t" x="1809" y="4341.1">（2）班级的地面要及时洒水，学生要准备一<tspan x="1809" dy="13.7">条干净的毛巾，必要时用水浸湿伏在头上或颈</tspan><tspan x="1809" dy="13.7">上。</tspan></text></g>
<g id="b5-2m"><path class="u" d="M1803 4435H2025"/><text class="t" x="1809" y="4414.8">（3）在炎热时一定要勤观察学生的身体反映<tspan x="1809" dy="13.7">情况。</tspan></text></g>
<g id="b5-3"><path class="u" d="M1700 4549H1784"/><text class="t" x="1705" y="4542.5">三、其它工作</text></g>
<g id="b5-3a"><path class="u" d="M1793 4549H2015"/><text class="t" x="1799" y="4474">防暑降温是一项全面性工作，全校各部门要相<tspan x="1799" dy="13.7">互配合，相互支持，随叫随到。各部门要努力</tspan><tspan x="1799" dy="13.7">做好本职工作，结合防暑降温工作和本岗位的</tspan><tspan x="1799" dy="13.7">实际情况，对职责范围工作进行一次检查，随</tspan><tspan x="1799" dy="13.7">时听候学校防暑降温领导小组的调遣，共同努</tspan><tspan x="1799" dy="13.7">力，通力协作，把今年的防暑降温工作做好。</tspan></text></g>
<g id="b5-4"><path class="u" d="M1700 4768H1784"/><text class="t" x="1705" y="4761.5">四、具体措施</text></g>
<g id="b5-4a"><path class="u" d="M1793 4650H2015"/><text class="t" x="1799" y="4588.7">一是做好防暑宣传。利用校园广播、主题班会<tspan x="1799" dy="13.7">等多种宣传形式向学生宣传防暑降温常识，教</tspan><tspan x="1799" dy="13.7">育学生积极应对高温天气。积极引导师生在高</tspan><tspan x="1799" dy="13.7">温天气里保持平和心态，团结和谐，稳定学习</tspan><tspan x="1799" dy="13.7">工作。</tspan></text></g>
<g id="b5-4b"><path class="u" d="M1793 4737H2015"/><text class="t" x="1799" y="4689.4">二是加强饮食安全管理。学校加强小卖部卫生<tspan x="1799" dy="13.7">检查，必须进行消毒，必须打开门窗，保证通</tspan><tspan x="1799" dy="13.7">风。保障学生饮水卫生，防止感染胃肠道疾病</tspan><tspan x="1799" dy="13.7">。</tspan></text></g>
<g id="b5-4c"><path class="u" d="M1793 4811H2015"/><text class="t" x="1799" y="4777.1">三是减少学生户外运动。取消课间操、体育课<tspan x="1799" dy="13.7">等剧烈活动，避免学生长时间在户外暴晒、剧</tspan><tspan x="1799" dy="13.7">烈运动。</tspan></text></g>
<g id="b5-4d"><path class="u" d="M1793 4885H2015"/><text class="t" x="1799" y="4851.1">四是保证学生充分休息。加强值班力度，维护<tspan x="1799" dy="13.7">安全、安定的休息环境，保证学生的精神状态</tspan><tspan x="1799" dy="13.7">。</tspan></text></g>
</g>
</g>
</svg>
